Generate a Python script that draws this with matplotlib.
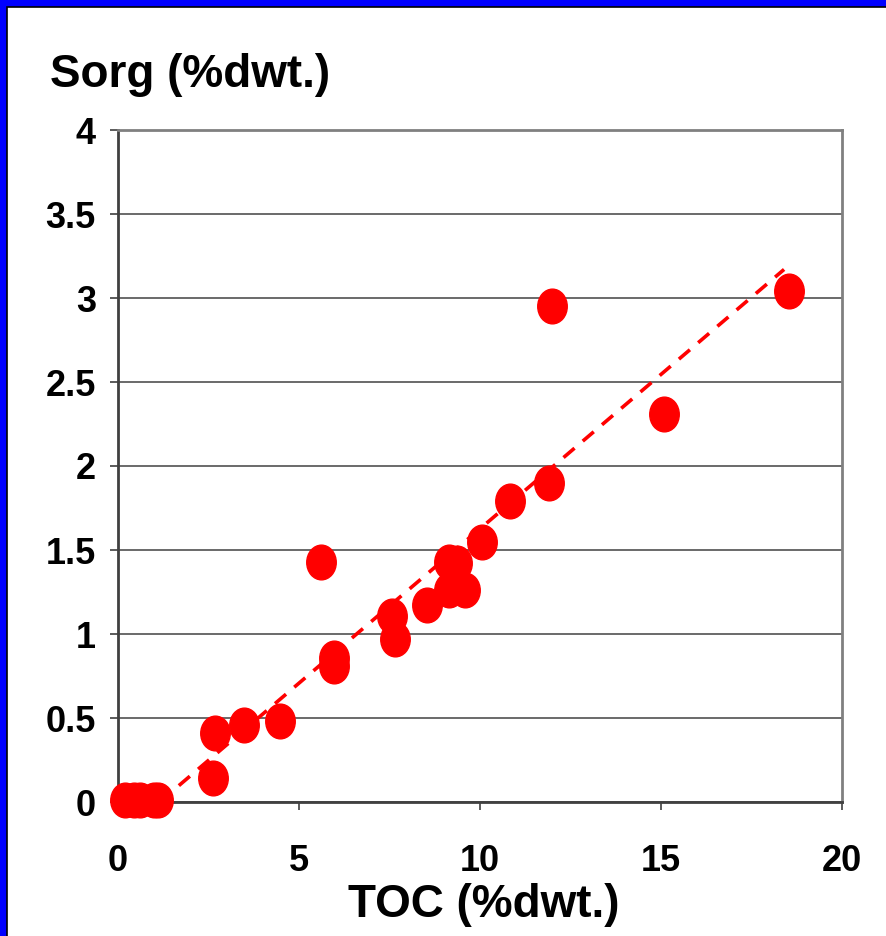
import numpy as np
import matplotlib
matplotlib.use("Agg")
import matplotlib.pyplot as plt
from matplotlib.path import Path
from matplotlib.patches import Rectangle

# TOC vs Sorg
toc = [0.2, 0.45, 0.6, 1.0, 1.1, 2.62, 2.68, 3.48, 4.47, 5.6, 5.97, 5.97,
       7.57, 7.65, 8.54, 9.14, 9.36, 9.14, 9.58, 10.05, 10.83, 11.9, 11.99,
       15.08, 18.54]
sorg = [0.01, 0.01, 0.01, 0.01, 0.01, 0.14, 0.41, 0.46, 0.48, 1.43, 0.86, 0.81,
        1.11, 0.97, 1.17, 1.43, 1.42, 1.26, 1.26, 1.55, 1.79, 1.90, 2.95,
        2.31, 3.04]
trend_x = [1.15, 18.4]
trend_y = [0.0, 3.17]

xticks = [0, 5, 10, 15, 20]
yticks = [0, 0.5, 1, 1.5, 2, 2.5, 3, 3.5, 4]
ytick_labels = ["0", "0.5", "1", "1.5", "2", "2.5", "3", "3.5", "4"]

font = ["Liberation Sans Narrow", "Liberation Sans", "DejaVu Sans"]

# slightly tall ellipse marker
circ = Path.unit_circle()
ell = Path(circ.vertices * np.array([0.85, 1.0]), circ.codes)

fig = plt.figure(figsize=(8.86, 9.36), dpi=100, facecolor="#0000ff")
# white page with a thin dark line along the blue frame (left and top only)
fig.patches.append(Rectangle((7 / 886, -0.5), 2, 1.5 - 7 / 936, transform=fig.transFigure,
                             facecolor="white", edgecolor="black", lw=1.2, zorder=-5))

ax = fig.add_axes([118 / 886, 1 - 802 / 936, (842 - 118) / 886, (802 - 130) / 936])
ax.set_facecolor("white")

ax.grid(axis="y", color="#505050", lw=1.2)
ax.set_axisbelow(True)
ax.plot(trend_x, trend_y, color="#ff0000", ls=(0, (4, 3)), lw=2.6, zorder=2)
ax.plot(toc, sorg, ls="none", marker=ell, ms=25, color="#ff0000", mec="#ff0000", zorder=3,
        clip_on=False)

ax.set_xlim(0, 20)
ax.set_ylim(0, 4)
ax.set_xticks(xticks)
ax.set_yticks(yticks)
ax.set_yticklabels(ytick_labels)
for lab in ax.get_xticklabels() + ax.get_yticklabels():
    lab.set_family(font)
    lab.set_fontweight("bold")
    lab.set_fontsize(26)
ax.tick_params(axis="both", direction="out", length=6, width=1.2, color="#404040")
ax.tick_params(axis="x", pad=24)
ax.tick_params(axis="y", pad=10)

ax.spines["left"].set_color("#404040")
ax.spines["bottom"].set_color("#404040")
ax.spines["top"].set_color("#808080")
ax.spines["right"].set_color("#808080")
for s in ax.spines.values():
    s.set_linewidth(2)

fig.text(50 / 886, 1 - 75 / 936, "Sorg (%dwt.)", family=font, fontweight="bold",
         fontsize=33, va="center", ha="left")
fig.text(484 / 886, 1 - 905 / 936, "TOC (%dwt.)", family=font, fontweight="bold",
         fontsize=33, va="center", ha="center")

fig.savefig("out.png", dpi=100, facecolor=fig.get_facecolor())
